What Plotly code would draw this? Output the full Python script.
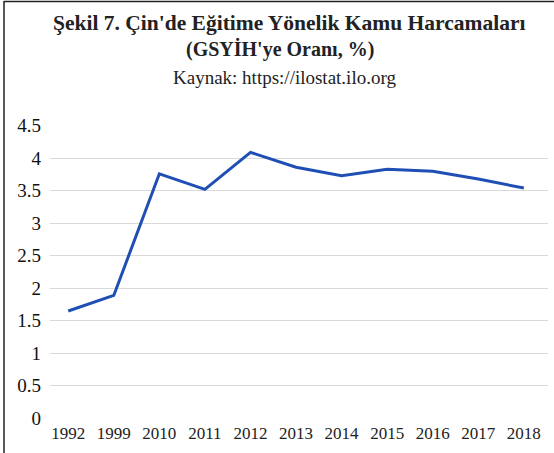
import plotly.graph_objects as go

years = ["1992", "1999", "2010", "2011", "2012", "2013", "2014", "2015", "2016", "2017", "2018"]
values = [1.65, 1.89, 3.76, 3.52, 4.09, 3.86, 3.73, 3.83, 3.80, 3.68, 3.54]
y_ticks = [0, 0.5, 1, 1.5, 2, 2.5, 3, 3.5, 4, 4.5]
y_tick_labels = ["0", "0.5", "1", "1.5", "2", "2.5", "3", "3.5", "4", "4.5"]

W, H = 554, 453
L, R, T, B = 50, 6, 125, 34
pw, ph = W - L - R, H - T - B

def px(x):
    return (x - L) / pw

def py(y):
    return (H - B - y) / ph

serif = "Liberation Serif, Times New Roman, serif"

fig = go.Figure()
fig.add_trace(go.Scatter(
    x=list(range(len(years))), y=values, mode="lines",
    line=dict(color="#1f4fb5", width=3),
    hoverinfo="skip", showlegend=False,
))

fig.update_layout(
    width=W, height=H,
    margin=dict(l=L, r=R, t=T, b=B),
    paper_bgcolor="white", plot_bgcolor="white",
    xaxis=dict(
        range=[-0.4, 10.53],
        tickmode="array", tickvals=list(range(len(years))), ticktext=years,
        showgrid=False, zeroline=False, showline=False, ticks="",
        tickfont=dict(family=serif, size=17, color="#222"),
        ticklabelstandoff=2,
    ),
    yaxis=dict(
        range=[-0.01, 4.51],
        tickmode="array", tickvals=y_ticks, ticktext=y_tick_labels,
        showgrid=True, gridcolor="#d9d9d9", gridwidth=1,
        zeroline=False, showline=False, ticks="",
        tickfont=dict(family=serif, size=19, color="#111"),
        ticklabelstandoff=8,
    ),
    shapes=[
        dict(type="line", xref="paper", yref="paper",
             x0=px(4), x1=px(4), y0=py(1), y1=py(H + 5),
             line=dict(color="#222", width=1.5)),
        dict(type="line", xref="paper", yref="paper",
             x0=px(4), x1=px(W + 5), y0=py(1.5), y1=py(1.5),
             line=dict(color="#222", width=1.5)),
    ],
    annotations=[
        dict(text="<b>Şekil 7. Çin'de Eğitime Yönelik Kamu Harcamaları</b>",
             xref="paper", yref="paper", x=px(289), y=py(23),
             xanchor="center", yanchor="middle", showarrow=False,
             font=dict(family=serif, size=21.5, color="#222")),
        dict(text="<b>(GSYİH'ye Oranı, %)</b>",
             xref="paper", yref="paper", x=px(280), y=py(49),
             xanchor="center", yanchor="middle", showarrow=False,
             font=dict(family=serif, size=20, color="#222")),
        dict(text="Kaynak: https://ilostat.ilo.org",
             xref="paper", yref="paper", x=px(284), y=py(77),
             xanchor="center", yanchor="middle", showarrow=False,
             font=dict(family=serif, size=19, color="#222")),
    ],
)

fig.write_html(
    "out.html",
    config={"displayModeBar": False},
    post_script="document.body.style.margin='0';document.body.style.overflow='hidden';",
)
